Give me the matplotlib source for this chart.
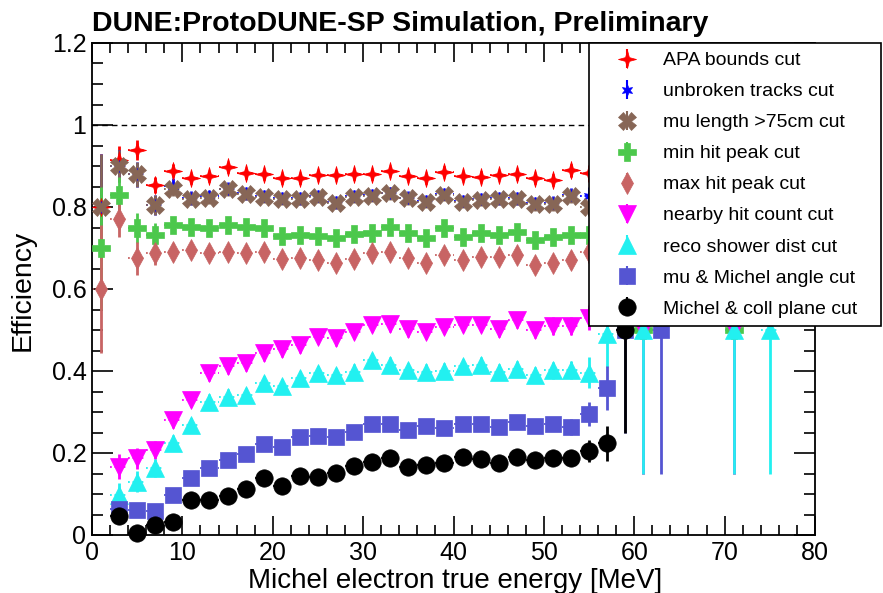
import matplotlib
matplotlib.use('Agg')
import matplotlib.pyplot as plt
from matplotlib.path import Path
from matplotlib.ticker import MultipleLocator, FuncFormatter

plt.rcParams['font.family'] = ['Liberation Sans', 'DejaVu Sans']

# ---------------- data ----------------
labels = ["APA bounds cut", "unbroken tracks cut", "mu length >75cm cut",
          "min hit peak cut", "max hit peak cut", "nearby hit count cut",
          "reco shower dist cut", "mu & Michel angle cut", "Michel & coll plane cut"]

x_apa = [1, 3, 5, 7, 9, 11, 13, 15, 17, 19, 21, 23, 25, 27, 29, 31, 33, 35, 37, 39, 41, 43, 45, 47, 49, 51, 53, 55]
eff_apa = [0.80, 0.915, 0.939, 0.854, 0.888, 0.870, 0.875, 0.897, 0.882, 0.880, 0.870, 0.870, 0.878, 0.878,
           0.880, 0.880, 0.888, 0.876, 0.870, 0.886, 0.876, 0.874, 0.878, 0.880, 0.870, 0.866, 0.890, 0.882]
err_apa = [0.13, 0.035, 0.025, 0.02, 0.016, 0.014, 0.014, 0.013, 0.013, 0.013, 0.013, 0.013, 0.013, 0.013,
           0.013, 0.013, 0.013, 0.013, 0.013, 0.013, 0.013, 0.013, 0.013, 0.013, 0.014, 0.015, 0.016, 0.02]

x_unb = x_apa
eff_unb = [0.80, 0.90, 0.88, 0.805, 0.852, 0.822, 0.826, 0.845, 0.833, 0.827, 0.822, 0.821, 0.826, 0.811,
           0.827, 0.829, 0.835, 0.823, 0.815, 0.831, 0.815, 0.819, 0.821, 0.821, 0.809, 0.809, 0.829, 0.826]
err_unb = [0.13, 0.04, 0.03, 0.025, 0.018, 0.016, 0.015, 0.015, 0.015, 0.015, 0.015, 0.015, 0.015, 0.015,
           0.015, 0.015, 0.015, 0.015, 0.015, 0.015, 0.015, 0.015, 0.015, 0.015, 0.016, 0.017, 0.018, 0.022]

x_mul = x_apa
eff_mul = [0.80, 0.90, 0.88, 0.805, 0.844, 0.820, 0.822, 0.843, 0.831, 0.825, 0.820, 0.819, 0.824, 0.809,
           0.825, 0.827, 0.833, 0.821, 0.813, 0.829, 0.813, 0.817, 0.819, 0.819, 0.807, 0.807, 0.827, 0.800]
err_mul = [0.13, 0.04, 0.03, 0.025, 0.018, 0.016, 0.015, 0.015, 0.015, 0.015, 0.015, 0.015, 0.015, 0.015,
           0.015, 0.015, 0.015, 0.015, 0.015, 0.015, 0.015, 0.015, 0.015, 0.015, 0.016, 0.017, 0.018, 0.022]

x_min = x_apa + [61, 71]
eff_min = [0.70, 0.829, 0.748, 0.732, 0.756, 0.752, 0.750, 0.755, 0.752, 0.748, 0.729, 0.732, 0.729, 0.724,
           0.734, 0.737, 0.752, 0.736, 0.724, 0.748, 0.728, 0.736, 0.732, 0.740, 0.720, 0.726, 0.732, 0.732,
           0.50, 0.50]
err_min = [0.15, 0.045, 0.037, 0.03, 0.02, 0.018, 0.017, 0.017, 0.017, 0.017, 0.017, 0.017, 0.017, 0.017,
           0.017, 0.017, 0.017, 0.017, 0.017, 0.017, 0.017, 0.017, 0.017, 0.017, 0.018, 0.019, 0.02, 0.025,
           0.35, 0.35]

x_max = x_apa
eff_max = [0.60, 0.771, 0.675, 0.689, 0.691, 0.695, 0.689, 0.691, 0.689, 0.691, 0.672, 0.675, 0.671, 0.664,
           0.672, 0.687, 0.691, 0.675, 0.663, 0.683, 0.671, 0.679, 0.679, 0.683, 0.659, 0.664, 0.671, 0.691]
err_max = [0.155, 0.045, 0.04, 0.03, 0.022, 0.02, 0.018, 0.018, 0.018, 0.018, 0.018, 0.018, 0.018, 0.018,
           0.018, 0.018, 0.018, 0.018, 0.018, 0.018, 0.018, 0.018, 0.018, 0.018, 0.019, 0.02, 0.021, 0.027]

x_near = x_apa[1:] + [61, 71]
eff_near = [0.167, 0.187, 0.207, 0.280, 0.329, 0.394, 0.411, 0.419, 0.443, 0.453, 0.463, 0.484, 0.480,
            0.496, 0.512, 0.514, 0.502, 0.496, 0.508, 0.512, 0.512, 0.502, 0.524, 0.500, 0.510, 0.510, 0.530,
            0.50, 0.50]
err_near = [0.03, 0.025, 0.022, 0.02, 0.018, 0.018, 0.018, 0.018, 0.018, 0.018, 0.018, 0.018, 0.018,
            0.018, 0.018, 0.018, 0.018, 0.018, 0.018, 0.018, 0.018, 0.018, 0.019, 0.02, 0.021, 0.022, 0.03,
            0.35, 0.35]

x_reco = x_apa[1:] + [57, 61, 71, 75]
eff_reco = [0.098, 0.130, 0.163, 0.224, 0.268, 0.325, 0.337, 0.341, 0.370, 0.363, 0.382, 0.394, 0.390,
            0.398, 0.427, 0.415, 0.402, 0.398, 0.401, 0.411, 0.415, 0.398, 0.406, 0.390, 0.402, 0.402, 0.396,
            0.49, 0.50, 0.50, 0.50]
err_reco = [0.03, 0.025, 0.022, 0.02, 0.018, 0.018, 0.018, 0.018, 0.018, 0.018, 0.018, 0.018, 0.018,
            0.018, 0.018, 0.018, 0.018, 0.018, 0.018, 0.018, 0.018, 0.018, 0.019, 0.02, 0.021, 0.022, 0.037,
            0.08, 0.35, 0.35, 0.35]

x_ang = x_apa[1:] + [57, 59, 63]
eff_ang = [0.063, 0.061, 0.059, 0.098, 0.138, 0.163, 0.183, 0.198, 0.222, 0.215, 0.239, 0.241, 0.238,
           0.252, 0.271, 0.271, 0.256, 0.266, 0.260, 0.271, 0.271, 0.264, 0.276, 0.266, 0.271, 0.264, 0.295,
           0.359, 0.50, 0.50]
err_ang = [0.02, 0.018, 0.016, 0.016, 0.015, 0.015, 0.015, 0.015, 0.015, 0.015, 0.015, 0.015, 0.015,
           0.015, 0.015, 0.015, 0.015, 0.015, 0.015, 0.015, 0.015, 0.015, 0.016, 0.017, 0.018, 0.019, 0.03,
           0.053, 0.25, 0.35]

x_coll = x_apa[1:] + [57, 59]
eff_coll = [0.046, 0.004, 0.024, 0.032, 0.085, 0.085, 0.095, 0.111, 0.138, 0.120, 0.144, 0.142, 0.151,
            0.168, 0.179, 0.188, 0.167, 0.171, 0.176, 0.191, 0.185, 0.176, 0.191, 0.183, 0.187, 0.187, 0.205,
            0.224, 0.50]
err_coll = [0.018, 0.008, 0.012, 0.012, 0.013, 0.013, 0.013, 0.013, 0.013, 0.013, 0.013, 0.013, 0.013,
            0.013, 0.013, 0.013, 0.013, 0.013, 0.013, 0.013, 0.013, 0.013, 0.014, 0.015, 0.016, 0.017, 0.027,
            0.043, 0.25]

bin_half_width = 1.0

series = [
    (x_apa, eff_apa, err_apa),
    (x_unb, eff_unb, err_unb),
    (x_mul, eff_mul, err_mul),
    (x_min, eff_min, err_min),
    (x_max, eff_max, err_max),
    (x_near, eff_near, err_near),
    (x_reco, eff_reco, err_reco),
    (x_ang, eff_ang, err_ang),
    (x_coll, eff_coll, err_coll),
]
colors = ['#ff0000', '#0000ff', '#876656', '#4cc84c', '#c86464', '#ff00ff', '#22f0f0', '#5555d2', '#000000']
star4 = Path.unit_regular_star(4, innerCircle=0.3)
star6 = Path.unit_regular_star(6, innerCircle=0.45)
markers = [star4, star6, 'X', 'P', 'd', 'v', '^', 's', 'o']
msizes = [13, 8.5, 12.5, 12.5, 11, 13, 13, 11.5, 12.5]

# ---------------- figure ----------------
fig = plt.figure(figsize=(8.83, 5.93), dpi=100)
ax = fig.add_axes([92/883, 1-535/593, (815-92)/883, (535-43)/593])

ax.axhline(1.0, color='black', lw=1, ls=(0, (4, 3)), zorder=1)

handles = []
for (xs, ys, es), c, m, ms, lab in zip(series, colors, markers, msizes, labels):
    ax.hlines(ys, [v - bin_half_width for v in xs], [v + bin_half_width for v in xs],
              colors=c, linestyles=(0, (1, 1.5)), lw=1.3, zorder=2)
    eb = ax.errorbar(xs, ys, yerr=es, fmt='none', ecolor=c, elinewidth=2, zorder=2)
    for art in eb.lines[2]:
        art.set_clip_on(False)
    pts, = ax.plot(xs, ys, ls='none', marker=m, ms=ms, color=c, mec=c, mew=0.5,
                   zorder=3, clip_on=False)
    h = ax.errorbar([], [], yerr=[], fmt='none', ecolor=c, elinewidth=1.5)
    handles.append((h, pts))

ax.set_xlim(0, 80)
ax.set_ylim(0, 1.2)

ax.xaxis.set_major_locator(MultipleLocator(10))
ax.xaxis.set_minor_locator(MultipleLocator(2))
ax.yaxis.set_major_locator(MultipleLocator(0.2))
ax.yaxis.set_minor_locator(MultipleLocator(0.05))
fmt = FuncFormatter(lambda v, p: f'{v:g}')
ax.xaxis.set_major_formatter(fmt)
ax.yaxis.set_major_formatter(fmt)

ax.tick_params(which='both', direction='in', top=True, right=True, width=1.2, colors='black')
ax.tick_params(axis='y', which='major', length=15, labelsize=18, pad=4)
ax.tick_params(axis='y', which='minor', length=8)
ax.tick_params(axis='x', which='major', length=14, labelsize=18, pad=4)
ax.tick_params(axis='x', which='minor', length=7)
for s in ax.spines.values():
    s.set_linewidth(1.3)

leg = ax.legend(handles, labels, loc='upper left',
                bbox_to_anchor=(497/723, 0.0, 292/723, 1.0), mode='expand',
                borderaxespad=0, fontsize=14, frameon=True, fancybox=False,
                framealpha=1, edgecolor='black', handlelength=3.0, handletextpad=0.35,
                labelspacing=0.69, borderpad=0.45)
leg.set_zorder(10)
leg.get_frame().set_linewidth(1.2)

fig.text(92/883, 1-31/593, 'DUNE:ProtoDUNE-SP Simulation, Preliminary',
         fontsize=20.5, fontweight='bold', ha='left', va='baseline')
fig.text(23/883, 1-290/593, 'Efficiency', fontsize=20.5, rotation=90,
         ha='center', va='center')
fig.text(455/883, 1-588/593, 'Michel electron true energy [MeV]', fontsize=20,
         ha='center', va='baseline')

fig.savefig('out.png', dpi=100)
